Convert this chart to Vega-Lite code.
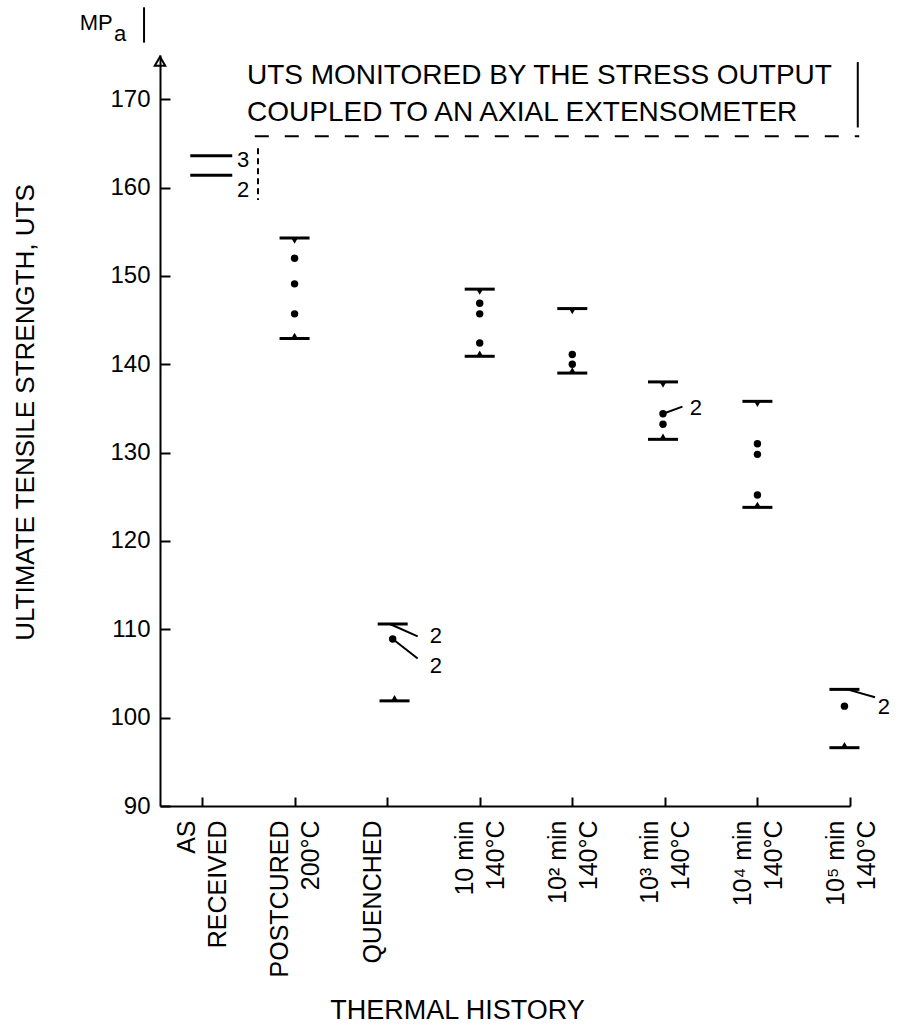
{
  "$schema": "https://vega.github.io/schema/vega-lite/v6.json",
  "width": 690,
  "height": 751,
  "autosize": {"type": "none"},
  "padding": {"left": 160, "top": 55, "right": 48, "bottom": 229},
  "background": "white",
  "config": {"view": {"stroke": null}, "font": "Liberation Sans"},
  "datasets": {
    "dots": [
      {"x": 1.0, "v": 152.0}, {"x": 1.0, "v": 149.1}, {"x": 1.0, "v": 145.7},
      {"x": 2.06, "v": 108.9},
      {"x": 3.0, "v": 146.9}, {"x": 3.0, "v": 145.7}, {"x": 3.0, "v": 142.4},
      {"x": 4.0, "v": 141.1}, {"x": 4.0, "v": 140.0},
      {"x": 4.98, "v": 134.4}, {"x": 4.98, "v": 133.2},
      {"x": 6.0, "v": 131.0}, {"x": 6.0, "v": 129.8}, {"x": 6.0, "v": 125.2},
      {"x": 6.94, "v": 101.3}
    ],
    "bars": [
      {"x": 0.1, "v": 163.6, "k": "a"}, {"x": 0.1, "v": 161.4, "k": "a"},
      {"x": 1.0, "v": 154.3, "k": "max"}, {"x": 1.0, "v": 142.9, "k": "min"},
      {"x": 2.06, "v": 110.6, "k": "plain"}, {"x": 2.08, "v": 101.9, "k": "min"},
      {"x": 3.0, "v": 148.5, "k": "max"}, {"x": 3.0, "v": 140.9, "k": "min"},
      {"x": 4.0, "v": 146.3, "k": "max"}, {"x": 4.0, "v": 139.0, "k": "min"},
      {"x": 4.98, "v": 138.0, "k": "max"}, {"x": 4.98, "v": 131.5, "k": "min"},
      {"x": 6.0, "v": 135.8, "k": "max"}, {"x": 6.0, "v": 123.8, "k": "min"},
      {"x": 6.94, "v": 103.2, "k": "plain"}, {"x": 6.94, "v": 96.6, "k": "min"}
    ],
    "segs": [
      {"x": 2.03, "v": 110.6, "x2": 2.33, "v2": 109.2, "s": "solid"},
      {"x": 2.06, "v": 108.9, "x2": 2.33, "v2": 106.7, "s": "solid"},
      {"x": 4.98, "v": 134.4, "x2": 5.19, "v2": 135.2, "s": "solid"},
      {"x": 6.97, "v": 103.2, "x2": 7.27, "v2": 102.3, "s": "solid"},
      {"x": 7.084, "v": 174.2, "x2": 7.084, "v2": 166.8, "s": "solid"},
      {"x": -0.626, "v": 180.4, "x2": -0.626, "v2": 176.4, "s": "solid"},
      {"x": 0.605, "v": 164.45, "x2": 0.605, "v2": 158.6, "s": "short"},
      {"x": 0.57, "v": 165.8, "x2": 7.1, "v2": 165.8, "s": "long"}
    ],
    "texts": [
      {"t": "UTS MONITORED BY THE STRESS OUTPUT", "x": 0.486, "v": 172.6, "g": "note"},
      {"t": "COUPLED TO AN AXIAL EXTENSOMETER", "x": 0.486, "v": 168.4, "g": "note"},
      {"t": "3", "x": 0.378, "v": 163.1, "g": "n"},
      {"t": "2", "x": 0.378, "v": 159.7, "g": "n"},
      {"t": "2", "x": 2.46, "v": 109.2, "g": "n"},
      {"t": "2", "x": 2.46, "v": 105.8, "g": "n"},
      {"t": "2", "x": 5.27, "v": 135.0, "g": "n"},
      {"t": "2", "x": 7.30, "v": 101.2, "g": "n"},
      {"t": "MP", "x": -1.32, "v": 178.6, "g": "n"},
      {"t": "a", "x": -0.95, "v": 177.4, "g": "n"}
    ],
    "arrow": [{"x": -0.4536, "v": 174.3}]
  },
  "encoding": {
    "x": {
      "field": "x", "type": "quantitative",
      "scale": {"domain": [-0.4536, 7], "nice": false, "zero": false},
      "title": "THERMAL HISTORY",
      "axis": {
        "values": [0, 1, 2, 3, 4, 5, 6, 7],
        "labelExpr": "[['AS','RECEIVED'],['POSTCURED','200°C'],['QUENCHED'],['10 min','140°C'],['10² min','140°C'],['10³ min','140°C'],['10⁴ min','140°C'],['10⁵ min','140°C']][datum.value]",
        "labelAngle": 270,
        "labelFontSize": 25,
        "labelLineHeight": 31,
        "labelOffset": -15,
        "labelColor": "black",
        "labelPadding": 23,
        "tickSize": -9,
        "tickWidth": 2,
        "tickColor": "black",
        "domainColor": "black",
        "domainWidth": 2,
        "grid": false,
        "labelFlush": false,
        "labelOverlap": false,
        "titleFontSize": 27,
        "titleFontWeight": "normal",
        "titleColor": "black",
        "titleX": 297,
        "titleY": 204,
        "titleBaseline": "middle",
        "titleAlign": "center"
      }
    },
    "y": {
      "field": "v", "type": "quantitative",
      "scale": {"domain": [90, 175], "nice": false, "zero": false},
      "title": "ULTIMATE TENSILE STRENGTH, UTS",
      "axis": {
        "values": [90, 100, 110, 120, 130, 140, 150, 160, 170],
        "labelFontSize": 24,
        "labelColor": "black",
        "labelPadding": 20,
        "tickSize": -10,
        "tickWidth": 2,
        "tickColor": "black",
        "domainColor": "black",
        "domainWidth": 2,
        "grid": false,
        "titleFontSize": 26,
        "titleFontWeight": "normal",
        "titleColor": "black",
        "titleX": -135,
        "titleY": 357,
        "titleAngle": 270,
        "titleBaseline": "middle",
        "titleAlign": "center"
      }
    }
  },
  "layer": [
    {"data": {"name": "dots"}, "mark": {"type": "point", "filled": true, "size": 55, "color": "black", "opacity": 1}},
    {"data": {"name": "bars"}, "transform": [{"filter": "datum.k != 'a'"}], "mark": {"type": "tick", "orient": "horizontal", "size": 30, "thickness": 3, "color": "black", "opacity": 1}},
    {"data": {"name": "bars"}, "transform": [{"filter": "datum.k == 'a'"}], "mark": {"type": "tick", "orient": "horizontal", "size": 42, "thickness": 3, "color": "black", "opacity": 1}},
    {"data": {"name": "bars"}, "transform": [{"filter": "datum.k == 'max'"}], "mark": {"type": "point", "shape": "triangle-down", "filled": true, "size": 40, "yOffset": 3, "color": "black", "opacity": 1}},
    {"data": {"name": "bars"}, "transform": [{"filter": "datum.k == 'min'"}], "mark": {"type": "point", "shape": "triangle-up", "filled": true, "size": 40, "yOffset": -3, "color": "black", "opacity": 1}},
    {"data": {"name": "segs"}, "transform": [{"filter": "datum.s == 'solid'"}], "mark": {"type": "rule", "color": "black", "strokeWidth": 2},
      "encoding": {"x2": {"field": "x2"}, "y2": {"field": "v2"}}},
    {"data": {"name": "segs"}, "transform": [{"filter": "datum.s == 'short'"}], "mark": {"type": "rule", "color": "black", "strokeWidth": 2, "strokeDash": [6, 4]},
      "encoding": {"x2": {"field": "x2"}, "y2": {"field": "v2"}}},
    {"data": {"name": "segs"}, "transform": [{"filter": "datum.s == 'long'"}], "mark": {"type": "rule", "color": "black", "strokeWidth": 2, "strokeDash": [14, 16]},
      "encoding": {"x2": {"field": "x2"}, "y2": {"field": "v2"}}},
    {"data": {"name": "texts"}, "transform": [{"filter": "datum.g == 'note'"}], "mark": {"type": "text", "align": "left", "baseline": "middle", "fontSize": 28, "color": "black"},
      "encoding": {"text": {"field": "t"}}},
    {"data": {"name": "texts"}, "transform": [{"filter": "datum.g == 'n'"}], "mark": {"type": "text", "align": "left", "baseline": "middle", "fontSize": 22, "color": "black"},
      "encoding": {"text": {"field": "t"}}},
    {"data": {"name": "arrow"}, "mark": {"type": "point", "shape": "triangle-up", "filled": false, "size": 110, "strokeWidth": 2, "color": "black", "opacity": 1}}
  ]
}
